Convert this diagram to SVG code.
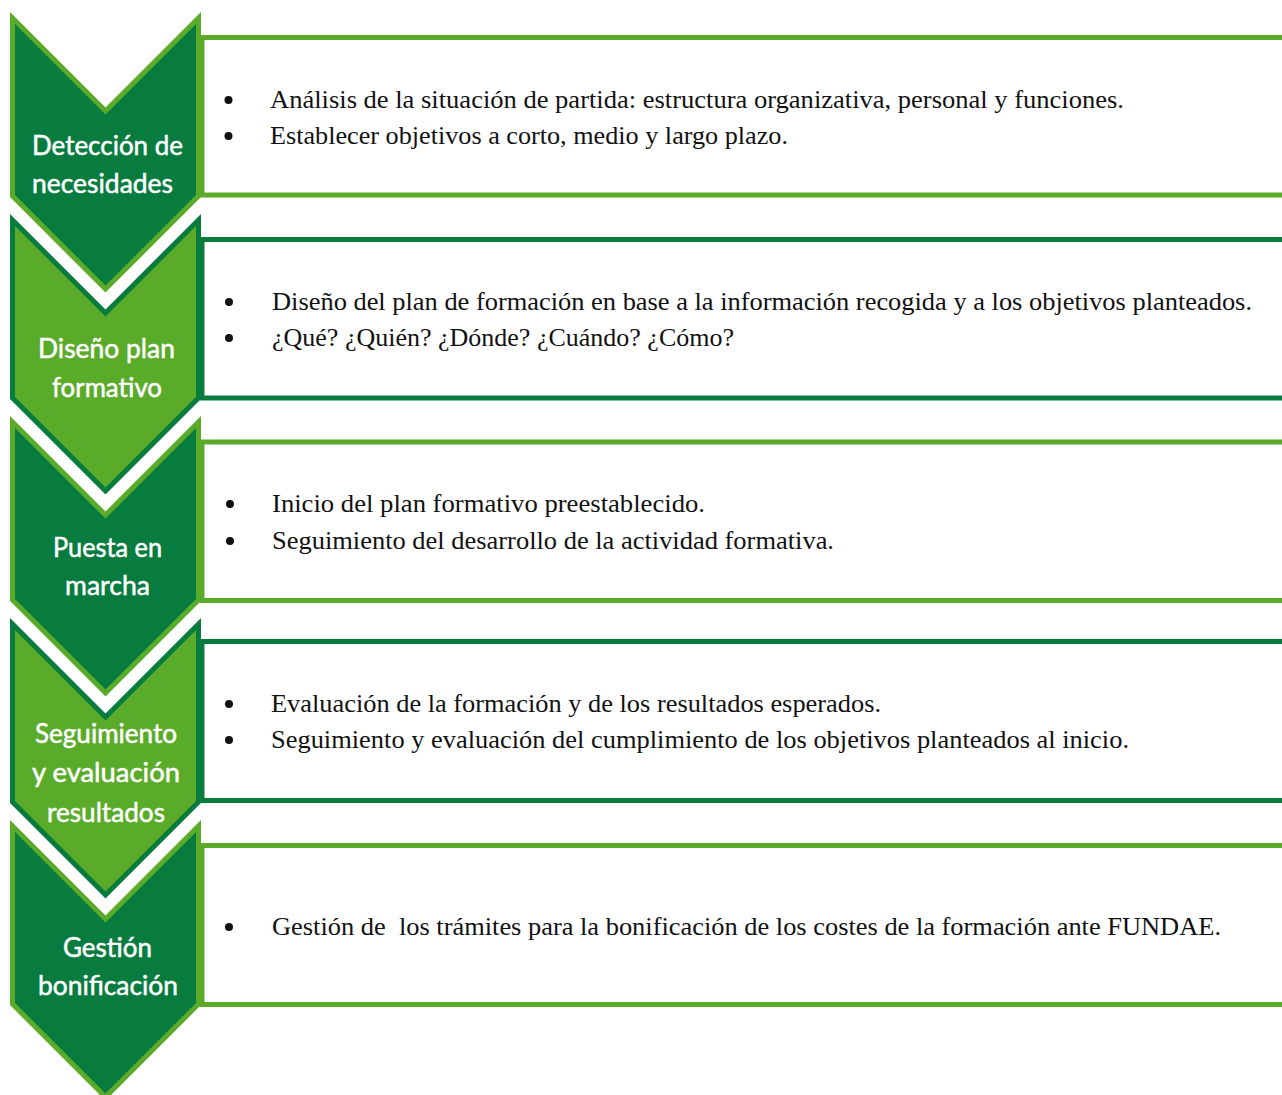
<svg xmlns="http://www.w3.org/2000/svg" width="1282" height="1095" viewBox="0 0 1282 1095">
<style>
.bg{fill:#ffffff}
.rd{fill:none;stroke:#077c3e;stroke-width:5}
.rl{fill:none;stroke:#5bab2a;stroke-width:5}
.cd{fill:#077c3e;stroke:#5bab2a;stroke-width:5;stroke-linejoin:miter}
.cl{fill:#5bab2a;stroke:#077c3e;stroke-width:5;stroke-linejoin:miter}
.lab{font-family:Lato,"Noto Sans","DejaVu Sans",sans-serif;font-size:26px;fill:#ffffff;stroke:#ffffff;stroke-width:0.5}
.txt{font-family:"Liberation Serif","DejaVu Serif",serif;font-size:25px;fill:#111111;white-space:pre}
.bul{fill:#111111}
</style>
<rect class="bg" x="0" y="0" width="1282" height="1095"/>
<g id="connectors">
<rect class="rl" x="202" y="37.5" width="1100" height="157.5"/>
<rect class="rd" x="202" y="239.5" width="1100" height="158.5"/>
<rect class="rl" x="202" y="442" width="1100" height="158.5"/>
<rect class="rd" x="202" y="641.5" width="1100" height="159"/>
<rect class="rl" x="202" y="845.5" width="1100" height="159"/>
</g>
<g id="step1">
<path class="cd" d="M12.5,18 L105.5,111 L198.5,18 L198.5,196 L105.5,289 L12.5,196 Z"/>
<text class="lab" x="32" y="155" textLength="151" lengthAdjust="spacingAndGlyphs">Detección de</text>
<text class="lab" x="32" y="193" textLength="141" lengthAdjust="spacingAndGlyphs">necesidades</text>
</g>
<g id="step2">
<path class="cl" d="M12.5,220 L105.5,313 L198.5,220 L198.5,398 L105.5,491 L12.5,398 Z"/>
<text class="lab" x="38" y="358" textLength="137" lengthAdjust="spacingAndGlyphs">Diseño plan</text>
<text class="lab" x="52" y="397" textLength="110" lengthAdjust="spacingAndGlyphs">formativo</text>
</g>
<g id="step3">
<path class="cd" d="M12.5,422 L105.5,515 L198.5,422 L198.5,600 L105.5,693 L12.5,600 Z"/>
<text class="lab" x="53" y="557" textLength="109" lengthAdjust="spacingAndGlyphs">Puesta en</text>
<text class="lab" x="65" y="595" textLength="85" lengthAdjust="spacingAndGlyphs">marcha</text>
</g>
<g id="step4">
<path class="cl" d="M12.5,624 L105.5,717 L198.5,624 L198.5,802 L105.5,895 L12.5,802 Z"/>
<text class="lab" x="35" y="743" textLength="142" lengthAdjust="spacingAndGlyphs">Seguimiento</text>
<text class="lab" x="32" y="782" textLength="148" lengthAdjust="spacingAndGlyphs">y evaluación</text>
<text class="lab" x="47" y="822" textLength="118" lengthAdjust="spacingAndGlyphs">resultados</text>
</g>
<g id="step5">
<path class="cd" d="M12.5,826 L105.5,919 L198.5,826 L198.5,1004 L105.5,1097 L12.5,1004 Z"/>
<text class="lab" x="63" y="957" textLength="89" lengthAdjust="spacingAndGlyphs">Gestión</text>
<text class="lab" x="38" y="995" textLength="140" lengthAdjust="spacingAndGlyphs">bonificación</text>
</g>
<g id="content1">
<circle class="bul" cx="228.5" cy="100" r="4"/>
<text class="txt" x="270" y="108" textLength="854" lengthAdjust="spacingAndGlyphs">Análisis de la situación de partida: estructura organizativa, personal y funciones.</text>
<circle class="bul" cx="228.5" cy="136" r="4"/>
<text class="txt" x="270" y="144" textLength="518" lengthAdjust="spacingAndGlyphs">Establecer objetivos a corto, medio y largo plazo.</text>
</g>
<g id="content2">
<circle class="bul" cx="229" cy="302" r="4"/>
<text class="txt" x="272" y="310" textLength="980" lengthAdjust="spacingAndGlyphs">Diseño del plan de formación en base a la información recogida y a los objetivos planteados.</text>
<circle class="bul" cx="229" cy="338" r="4"/>
<text class="txt" x="272" y="346" textLength="462" lengthAdjust="spacingAndGlyphs">¿Qué? ¿Quién? ¿Dónde? ¿Cuándo? ¿Cómo?</text>
</g>
<g id="content3">
<circle class="bul" cx="230" cy="504" r="4"/>
<text class="txt" x="272" y="512" textLength="433" lengthAdjust="spacingAndGlyphs">Inicio del plan formativo preestablecido.</text>
<circle class="bul" cx="230" cy="541" r="4"/>
<text class="txt" x="272" y="549" textLength="562" lengthAdjust="spacingAndGlyphs">Seguimiento del desarrollo de la actividad formativa.</text>
</g>
<g id="content4">
<circle class="bul" cx="229" cy="704" r="4"/>
<text class="txt" x="271" y="712" textLength="610" lengthAdjust="spacingAndGlyphs">Evaluación de la formación y de los resultados esperados.</text>
<circle class="bul" cx="229" cy="740" r="4"/>
<text class="txt" x="271" y="748" textLength="858" lengthAdjust="spacingAndGlyphs">Seguimiento y evaluación del cumplimiento de los objetivos planteados al inicio.</text>
</g>
<g id="content5">
<circle class="bul" cx="229" cy="927" r="4"/>
<text class="txt" x="272" y="935" textLength="949" lengthAdjust="spacingAndGlyphs">Gestión de  los trámites para la bonificación de los costes de la formación ante FUNDAE.</text>
</g>
</svg>
